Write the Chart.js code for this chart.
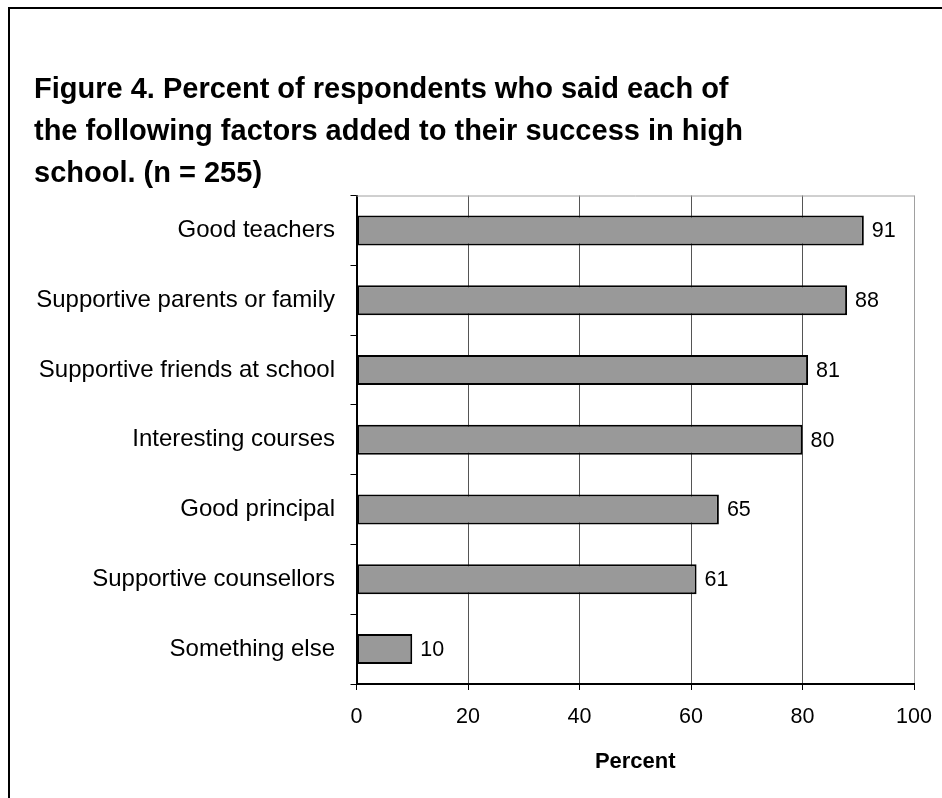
<!DOCTYPE html>
<html>
<head>
<meta charset="utf-8">
<script src="https://cdn.jsdelivr.net/npm/chart.js@4.4.1/dist/chart.umd.min.js"></script>
<style>
  html, body { margin: 0; padding: 0; background: #fff; }
  #wrap { position: relative; width: 942px; height: 798px; }
  canvas { display: block; }
</style>
</head>
<body>
<div id="wrap"><canvas id="c" width="942" height="798"></canvas></div>
<script>
const titleLines = [
  "Figure 4. Percent of respondents who said each of",
  "the following factors added to their success in high",
  "school. (n = 255)"
];
const categories = [
  "Good teachers",
  "Supportive parents or family",
  "Supportive friends at school",
  "Interesting courses",
  "Good principal",
  "Supportive counsellors",
  "Something else"
];
const percentValues = [91, 88, 81, 80, 65, 61, 10];
const xTickValues = [0, 20, 40, 60, 80, 100];
const xAxisTitle = "Percent";

const FONT = "'Liberation Sans', Arial, Helvetica, sans-serif";

const framePlugin = {
  id: 'frame',
  beforeDraw(chart) {
    const ctx = chart.ctx;
    ctx.save();
    ctx.fillStyle = '#ffffff';
    ctx.fillRect(0, 0, chart.width, chart.height);
    ctx.strokeStyle = '#000000';
    ctx.lineWidth = 2;
    ctx.beginPath();
    ctx.moveTo(9, chart.height);
    ctx.lineTo(9, 8);
    ctx.lineTo(chart.width, 8);
    ctx.stroke();
    ctx.restore();
  },
  afterDatasetsDraw(chart) {
    const ctx = chart.ctx;
    const a = chart.chartArea;
    ctx.save();
    ctx.strokeStyle = '#a0a0a0';
    ctx.lineWidth = 1;
    ctx.beginPath();
    ctx.moveTo(a.left, a.top + 0.5);
    ctx.lineTo(a.right + 0.5, a.top + 0.5);
    ctx.stroke();
    ctx.fillStyle = '#000';
    ctx.font = '21.5px ' + FONT;
    ctx.textAlign = 'left';
    ctx.textBaseline = 'middle';
    const meta = chart.getDatasetMeta(0);
    meta.data.forEach((el, i) => {
      ctx.fillText(String(chart.data.datasets[0].data[i]), el.x + 8, el.y + 1);
    });
    ctx.restore();
  }
};

new Chart(document.getElementById('c'), {
  type: 'bar',
  data: {
    labels: categories,
    datasets: [{
      data: percentValues,
      backgroundColor: '#999999',
      borderColor: '#000000',
      borderWidth: 2,
      borderSkipped: false,
      barPercentage: 0.43,
      categoryPercentage: 1.0
    }]
  },
  options: {
    indexAxis: 'y',
    responsive: false,
    animation: false,
    devicePixelRatio: 1,
    layout: { padding: { left: 34, right: 28, top: 0, bottom: 0 } },
    plugins: {
      legend: { display: false },
      tooltip: { enabled: false },
      title: {
        display: true,
        text: titleLines,
        align: 'start',
        color: '#000',
        font: { family: FONT, size: 29, weight: 'bold', lineHeight: 42 / 29 },
        padding: { top: 69, bottom: 0.5 }
      }
    },
    scales: {
      x: {
        type: 'linear',
        min: 0,
        max: 100,
        afterBuildTicks(scale) {
          scale.ticks = xTickValues.map(v => ({ value: v }));
        },
        afterFit(scale) {
          scale.height = 114;
          scale.paddingLeft = 0;
          scale.paddingRight = 0;
        },
        ticks: {
          color: '#000',
          font: { family: FONT, size: 21.5 },
          padding: 14
        },
        grid: {
          color: (ctx) => (ctx.tick && ctx.tick.value === 100) ? '#a0a0a0' : '#555555',
          tickColor: '#000000',
          lineWidth: 1,
          tickLength: 6,
          drawTicks: true
        },
        border: { display: true, color: '#000000', width: 2 },
        title: {
          display: true,
          text: xAxisTitle,
          color: '#000',
          font: { family: FONT, size: 22, weight: 'bold' },
          padding: { top: 10, bottom: 22.8 }
        }
      },
      y: {
        type: 'category',
        offset: true,
        afterFit(scale) { scale.width = 322.5; },
        ticks: {
          color: '#000',
          font: { family: FONT, size: 24 },
          padding: 15.5
        },
        grid: {
          offset: true,
          drawOnChartArea: false,
          drawTicks: true,
          tickLength: 6,
          color: '#000000',
          lineWidth: 1
        },
        border: { display: true, color: '#000000', width: 2 }
      }
    }
  },
  plugins: [framePlugin]
});
</script>
</body>
</html>
